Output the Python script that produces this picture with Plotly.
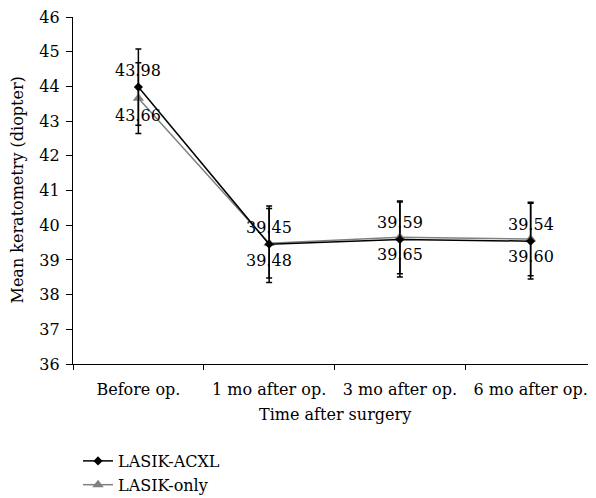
import plotly.graph_objects as go

categories = ["Before op.", "1 mo after op.", "3 mo after op.", "6 mo after op."]
acxl_mean = [43.98, 39.45, 39.59, 39.54]
acxl_sd = [1.10, 1.10, 1.08, 1.09]
only_mean = [43.66, 39.48, 39.65, 39.60]
only_sd = [1.02, 1.00, 1.05, 1.06]
acxl_labels = ["43.98", "39.45", "39.59", "39.54"]
only_labels = ["43.66", "39.48", "39.65", "39.60"]

FONT = "DejaVu Serif"
FS = 16

fig = go.Figure()
fig.add_trace(go.Scatter(
    x=categories, y=only_mean, name="LASIK-only", mode="lines+markers",
    line=dict(color="#808080", width=1.5),
    marker=dict(symbol="triangle-up", size=10, color="#808080"),
    error_y=dict(type="data", array=only_sd, color="black", thickness=1.5, width=3),
))
fig.add_trace(go.Scatter(
    x=categories, y=acxl_mean, name="LASIK-ACXL", mode="lines+markers",
    line=dict(color="black", width=1.5),
    marker=dict(symbol="diamond", size=7, color="black"),
    error_y=dict(type="data", array=acxl_sd, color="black", thickness=1.5, width=3),
))

for c, v, t in zip(categories, acxl_mean, acxl_labels):
    fig.add_annotation(x=c, y=v, text=t, showarrow=False, yshift=17,
                       font=dict(family=FONT, size=FS, color="black"))
for c, v, t in zip(categories, only_mean, only_labels):
    fig.add_annotation(x=c, y=v, text=t, showarrow=False, yshift=-17,
                       font=dict(family=FONT, size=FS, color="black"))

# axis titles
fig.add_annotation(xref="paper", yref="paper", x=0, y=0.5, xshift=-56,
                   text="Mean keratometry (diopter)", textangle=-90,
                   showarrow=False, xanchor="center", yanchor="middle",
                   font=dict(family=FONT, size=FS, color="black"))
fig.add_annotation(xref="paper", yref="paper", x=0.5, y=0, yshift=-50,
                   text="Time after surgery", showarrow=False,
                   xanchor="center", yanchor="middle",
                   font=dict(family=FONT, size=FS, color="black"))

fig.update_layout(
    width=588, height=490,
    margin=dict(l=65, r=0, t=9, b=134, autoexpand=False),
    paper_bgcolor="white", plot_bgcolor="white",
    font=dict(family=FONT, size=FS, color="black"),
    showlegend=True,
    legend=dict(x=0.0096, y=-0.2305, xanchor="left", yanchor="top",
                traceorder="reversed", font=dict(size=FS),
                itemwidth=30, tracegroupgap=0, bgcolor="rgba(0,0,0,0)"),
)
fig.update_xaxes(
    type="category", showline=True, linecolor="black", linewidth=1.2,
    ticks="outside", tickson="boundaries", ticklen=5, tickcolor="black",
    showgrid=False, range=[-0.5, 3.5], automargin=False, ticklabelstandoff=11,
    ticklabeloverflow="allow",
)
fig.update_yaxes(
    range=[36, 46], dtick=1, showline=True, linecolor="black", linewidth=1.2,
    ticks="outside", ticklen=6, tickcolor="black", showgrid=False, zeroline=False,
    automargin=False, ticklabelstandoff=3, ticklabeloverflow="allow",
)

fig.write_html("out.html")
